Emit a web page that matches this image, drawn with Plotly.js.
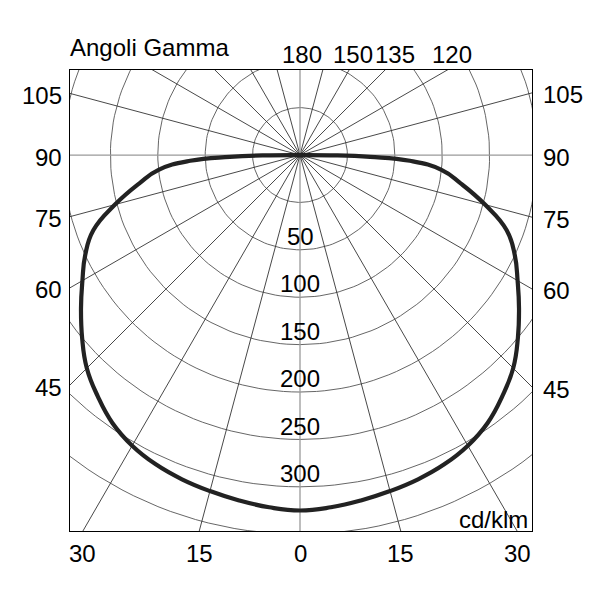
<!DOCTYPE html>
<html>
<head>
<meta charset="utf-8">
<script src="https://cdn.plot.ly/plotly-3.0.1.min.js"></script>
<style>html,body{margin:0;padding:0;background:#fff}#chart{width:600px;height:600px}</style>
</head>
<body>
<div id="chart"></div>
<script>
// Gamma angles (degrees, 0 = straight down) and intensity (cd/klm)
const gammaDeg  = [0, 5, 10, 15, 20, 25, 30, 35, 40, 45, 50, 55, 60, 65, 70, 75, 80, 84, 87, 88.5, 89.5, 90];
const intensity = [375, 373, 370, 367, 364, 360, 354, 345, 332, 318, 300, 282, 265, 250, 232, 202, 172, 150, 116, 74, 32, 0];

// Grid rings (cd/klm) and ring labels
const ringValues = [50, 100, 150, 200, 250, 300, 350, 400];
const ringLabels = [50, 100, 150, 200, 250, 300];

// Radial grid angles and their border labels
const radialAngles = [0, 15, 30, 45, 60, 75, 90, 105, 120, 135, 150, 165, 180];
const sideLabels   = [45, 60, 75, 90, 105];
const bottomLabels = [30, 15, 0, 15, 30];
const bottomAngles = [-30, -15, 0, 15, 30];
const topLabels    = [180, 150, 135, 120];

const xRange = [-242.6, 244.7];
const yRange = [-396.6, 89.7];
const rad = d => d * Math.PI / 180;
const FONT = 'Liberation Sans, Arial, sans-serif';

const traces = [];
// rings
ringValues.forEach(r => {
  const xs = [], ys = [];
  for (let a = 0; a <= 360; a += 2) { xs.push(r * Math.sin(rad(a))); ys.push(-r * Math.cos(rad(a))); }
  traces.push({type: 'scatter', mode: 'lines', x: xs, y: ys, line: {color: '#555', width: 0.9}, hoverinfo: 'skip', showlegend: false});
});
// radial lines
radialAngles.forEach(a => {
  const gray = (a === 0 || a === 90 || a === 180);
  const L = 800;
  traces.push({type: 'scatter', mode: 'lines',
    x: [-L * Math.sin(rad(a)), 0, L * Math.sin(rad(a))],
    y: [-L * Math.cos(rad(a)), 0, -L * Math.cos(rad(a))],
    line: {color: gray ? '#9a9a9a' : '#333', width: gray ? 1.3 : 0.9}, hoverinfo: 'skip', showlegend: false});
});
// intensity curve (symmetric C0-C180 plane)
const cx = [], cy = [];
for (let i = gammaDeg.length - 1; i >= 0; i--) { cx.push(-intensity[i] * Math.sin(rad(gammaDeg[i]))); cy.push(-intensity[i] * Math.cos(rad(gammaDeg[i]))); }
for (let i = 1; i < gammaDeg.length; i++) { cx.push(intensity[i] * Math.sin(rad(gammaDeg[i]))); cy.push(-intensity[i] * Math.cos(rad(gammaDeg[i]))); }
traces.push({type: 'scatter', mode: 'lines', x: cx, y: cy, line: {color: '#222', width: 4.2, shape: 'spline', smoothing: 1.3}, hoverinfo: 'skip', showlegend: false});

const ann = [];
const tf = {family: FONT, size: 24, color: '#000'};
// side labels
sideLabels.forEach(g => {
  const yL = xRange[0] / Math.tan(rad(g));
  const yR = -xRange[1] / Math.tan(rad(g));
  ann.push({xref: 'paper', yref: 'y', x: 0, y: -Math.abs(yL) * Math.sign(Math.cos(rad(g))) , xanchor: 'right', yanchor: 'middle', xshift: -6, yshift: -2, text: String(g), showarrow: false, font: tf});
  ann.push({xref: 'paper', yref: 'y', x: 1, y: -Math.abs(yR) * Math.sign(Math.cos(rad(g))), xanchor: 'left', yanchor: 'middle', xshift: 9, yshift: -2, text: String(g), showarrow: false, font: tf});
});
// bottom labels
bottomLabels.forEach((lab, i) => {
  ann.push({xref: 'x', yref: 'paper', x: -yRange[0] * Math.tan(rad(bottomAngles[i])), y: 0, xanchor: 'center', yanchor: 'middle', yshift: -22, text: String(lab), showarrow: false, font: tf});
});
// top labels
const topShift = [2, 4, 10, 5];
topLabels.forEach((lab, i) => {
  ann.push({xref: 'x', yref: 'paper', x: yRange[1] * Math.tan(rad(180 - lab)), y: 1, xanchor: 'center', yanchor: 'middle', xshift: topShift[i], yshift: 16, text: String(lab), showarrow: false, font: tf});
});
// ring labels
ringLabels.forEach(v => {
  ann.push({xref: 'x', yref: 'y', x: 0, y: -(v + 36), xanchor: 'center', yanchor: 'middle', text: String(v), showarrow: false, font: tf});
});
ann.push({xref: 'paper', yref: 'paper', x: 0, y: 1, xanchor: 'left', yanchor: 'middle', yshift: 23, xshift: -2, text: 'Angoli Gamma', showarrow: false, font: tf});
ann.push({xref: 'paper', yref: 'paper', x: 1, y: 0, xanchor: 'right', yanchor: 'bottom', xshift: -2, yshift: -4, text: 'cd/klm', showarrow: false, font: tf});

const axisCommon = {showgrid: false, zeroline: false, showticklabels: false, ticks: '', showline: true, mirror: true, linecolor: '#000', linewidth: 1.2, fixedrange: true};
const layout = {
  width: 600, height: 600,
  margin: {l: 70, r: 68, t: 70, b: 69},
  paper_bgcolor: '#fff', plot_bgcolor: '#fff',
  xaxis: Object.assign({range: xRange}, axisCommon),
  yaxis: Object.assign({range: yRange}, axisCommon),
  annotations: ann,
  showlegend: false
};
Plotly.newPlot('chart', traces, layout, {displayModeBar: false, staticPlot: true});
</script>
</body>
</html>
